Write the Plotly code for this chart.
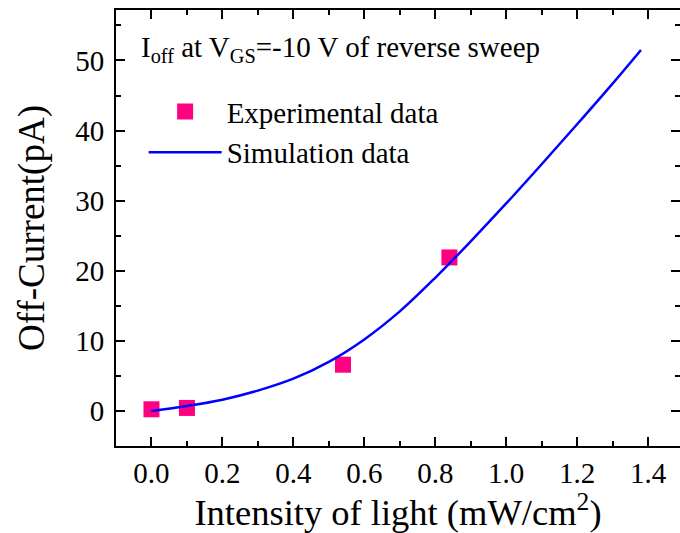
import plotly.graph_objects as go

# Experimental data
exp_x = [0.0, 0.1, 0.54, 0.84]
exp_y = [0.24, 0.43, 6.6, 21.9]

# Simulation data
sim_x = [0.0, 0.1, 0.2, 0.3, 0.4, 0.5, 0.6, 0.7, 0.8, 0.9, 1.0, 1.1, 1.2, 1.3, 1.38]
sim_y = [0.0, 0.7, 1.6, 2.9, 4.6, 7.0, 10.2, 14.2, 19.0, 24.2, 29.6, 35.2, 40.9, 46.7, 51.5]

x_ticks = [0.0, 0.2, 0.4, 0.6, 0.8, 1.0, 1.2, 1.4]
y_ticks = [0, 10, 20, 30, 40, 50]

FONT = "Liberation Serif"
x_range = [-0.1, 1.49]
y_range = [-5.0, 57.2]

fig = go.Figure()
fig.add_trace(go.Scatter(
    x=exp_x, y=exp_y, mode="markers", name="Experimental data",
    marker=dict(symbol="square", size=16, color="#FF0080", line=dict(width=0)),
))
fig.add_trace(go.Scatter(
    x=sim_x, y=sim_y, mode="lines", name="Simulation data",
    line=dict(color="#0000FF", width=2.5, shape="spline", smoothing=1.0),
))
# invisible trace on right axis so that ticks are drawn there
fig.add_trace(go.Scatter(x=[None], y=[None], yaxis="y2", showlegend=False, hoverinfo="skip"))

axis_common = dict(
    showgrid=False, zeroline=False,
    ticks="inside", ticklen=9, tickwidth=1.5, tickcolor="black",
    tickfont=dict(family=FONT, size=29, color="black"),
)

fig.update_layout(
    width=680, height=533,
    margin=dict(l=116, r=0, t=10, b=87),
    paper_bgcolor="white", plot_bgcolor="white",
    font=dict(family=FONT, color="black"),
    showlegend=True,
    legend=dict(
        x=0.049, y=0.72, xanchor="left", yanchor="middle",
        bgcolor="rgba(0,0,0,0)", font=dict(family=FONT, size=29, color="black"),
        itemwidth=73, tracegroupgap=0,
    ),
    xaxis=dict(
        range=x_range, tickvals=x_ticks, ticktext=[f"{v:.1f}" for v in x_ticks],
        showline=True, linecolor="black", linewidth=2, mirror="ticks",
        minor=dict(ticks="inside", ticklen=5, tickwidth=1.5, tickcolor="black", dtick=0.1, tick0=0),
        title=dict(text="Intensity of light (mW/cm<sup>2</sup>)", font=dict(family=FONT, size=36.5, color="black"), standoff=8),
        **axis_common,
    ),
    yaxis=dict(
        range=y_range, tickvals=y_ticks,
        showline=True, linecolor="black", linewidth=2, mirror=False,
        minor=dict(ticks="inside", ticklen=5, tickwidth=1.5, tickcolor="black", dtick=5, tick0=0),
        title=dict(text="Off-Current(pA)", font=dict(family=FONT, size=37, color="black"), standoff=19),
        ticklabelstandoff=4,
        **axis_common,
    ),
    yaxis2=dict(
        range=y_range, tickvals=y_ticks, overlaying="y", side="right",
        showline=False, showticklabels=False, showgrid=False, zeroline=False,
        ticks="inside", ticklen=9, tickwidth=1.5, tickcolor="black",
        minor=dict(ticks="inside", ticklen=5, tickwidth=1.5, tickcolor="black", dtick=5, tick0=0),
    ),
    annotations=[dict(
        text="I<sub>off</sub> at V<sub>GS</sub>=-10 V of reverse sweep",
        xref="paper", yref="paper", x=0.04, y=0.91, xanchor="left", yanchor="middle",
        showarrow=False, font=dict(family=FONT, size=29, color="black"),
    )],
)

fig.write_html("out.html")
